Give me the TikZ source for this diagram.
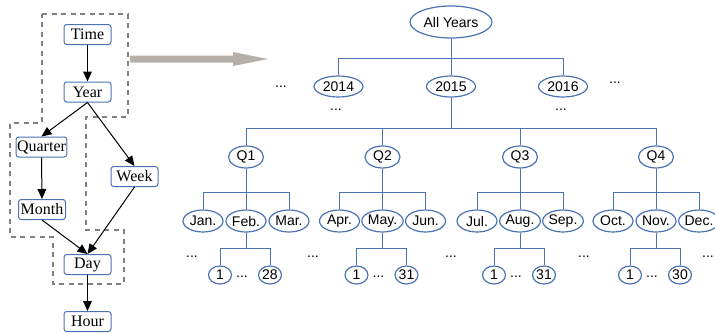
\documentclass[tikz,border=0pt]{standalone}
\usepackage{fontspec}
\setmainfont{Liberation Serif}
\setsansfont{Liberation Sans}
\usetikzlibrary{shapes.geometric,arrows.meta}

\definecolor{boxblue}{RGB}{75,115,180}
\definecolor{pathgray}{RGB}{128,128,128}
\definecolor{arrowgray}{RGB}{182,175,168}

\tikzset{
  lvlbox/.style={draw=boxblue, line width=0.75pt, rounded corners=2pt, fill=white, inner sep=0.75pt, minimum width=35.25pt, minimum height=15pt, font=\fontsize{12}{14}\selectfont},
  oval/.style={ellipse, draw=boxblue, line width=0.9pt, inner sep=0pt, font=\sffamily\fontsize{10.5}{12}\selectfont},
  topoval/.style={oval, minimum width=61.5pt, minimum height=24pt},
  yearoval/.style={oval, minimum width=36.75pt, minimum height=15.75pt},
  qoval/.style={oval, minimum width=26.25pt, minimum height=16.5pt},
  monoval/.style={oval, minimum width=30pt, minimum height=16.5pt},
  dayoval/.style={oval, minimum width=17.25pt, minimum height=13.5pt},
  dots/.style={inner sep=0pt, font=\sffamily\fontsize{10.5}{12}\selectfont},
  rollup/.style={-{Triangle[length=7.5pt,width=6.5pt]}, line width=0.75pt},
  treeline/.style={draw=boxblue, line width=0.75pt},
  pathline/.style={draw=pathgray, line width=2pt, dash pattern=on 3.75pt off 3.4pt}
}

\begin{document}
\begin{tikzpicture}[x=0.75pt,y=0.75pt,yscale=-1,xscale=1]
        \useasboundingbox (0,0) rectangle (715,333);

        % roll-up path of the time dimension
        \draw [pathline] (42,14) -- (128,14) -- (128,117) -- (86,117) -- (86,230) -- (124,230) -- (124,284) -- (53,284) -- (53,237) -- (10,237) -- (10,123) -- (42,123) -- cycle ;

        \node (time) at (87.5,34.5) [lvlbox] {Time};
        \node (year) at (87.5,92) [lvlbox] {Year};
        \node (quarter) at (41.5,147) [lvlbox] {Quarter};
        \node (week) at (134.5,176.5) [lvlbox] {Week};
        \node (month) at (42,209.5) [lvlbox] {Month};
        \node (day) at (87.5,264.5) [lvlbox] {Day};
        \node (hour) at (87.5,321.5) [lvlbox] {Hour};

        \draw [rollup] (time.south) -- (year.north) ;
        \draw [rollup] (year.south) -- (quarter.north) ;
        \draw [rollup] (year.south) -- (week.north) ;
        \draw [rollup] (quarter.south) -- (month.north) ;
        \draw [rollup] (month.south) -- (day.north) ;
        \draw [rollup] (week.south) -- (day.north) ;
        \draw [rollup] (day.south) -- (hour.north) ;

        % big arrow
        \fill [arrowgray] (130,55.5) -- (233,55.5) -- (233,52) -- (268,59) -- (233,66) -- (233,62.5) -- (130,62.5) -- cycle ;

        % member tree
        \node (all) at (451,22) [topoval] {All Years};
        \node (y14) at (338.5,86.5) [yearoval] {2014};
        \node (y15) at (451,86.5) [yearoval] {2015};
        \node (y16) at (563,86.5) [yearoval] {2016};
        \node (yl) at (281,87) [dots] {...};
        \node (yr) at (615,83) [dots] {...};
        \node (y14d) at (336,110) [dots] {...};
        \node (y16d) at (561,110) [dots] {...};

        \draw [treeline] (all.south) -- ++(0,20) -| (y14.north) ;
        \draw [treeline] (all.south) -- (y15.north) ;
        \draw [treeline] (all.south) -- ++(0,20) -| (y16.north) ;

        \node (q1) at (246,157) [qoval] {Q1};
        \node (q2) at (382.5,157) [qoval] {Q2};
        \node (q3) at (520,157) [qoval] {Q3};
        \node (q4) at (656,157) [qoval] {Q4};

        \draw [treeline] (y15.south) -- ++(0,31) -| (q1.north) ;
        \draw [treeline] (y15.south) -- ++(0,31) -| (q2.north) ;
        \draw [treeline] (y15.south) -- ++(0,31) -| (q3.north) ;
        \draw [treeline] (y15.south) -- ++(0,31) -| (q4.north) ;

        \node (jan) at (203,221) [monoval] {Jan.};
        \node (feb) at (246,221) [monoval] {Feb.};
        \node (mar) at (289,221) [monoval] {Mar.};
        \node (apr) at (339.5,221) [monoval] {Apr.};
        \node (may) at (382.5,221) [monoval] {May.};
        \node (jun) at (425.5,221) [monoval] {Jun.};
        \node (jul) at (477,221) [monoval] {Jul.};
        \node (aug) at (520,221) [monoval] {Aug.};
        \node (sep) at (563,221) [monoval] {Sep.};
        \node (oct) at (613,221) [monoval] {Oct.};
        \node (nov) at (656,221) [monoval] {Nov.};
        \node (dec) at (699,221) [monoval] {Dec.};

        \draw [treeline] (q1.south) -- ++(0,24) -| (jan.north) ;
        \draw [treeline] (q1.south) -- (feb.north) ;
        \draw [treeline] (q1.south) -- ++(0,24) -| (mar.north) ;
        \draw [treeline] (q2.south) -- ++(0,24) -| (apr.north) ;
        \draw [treeline] (q2.south) -- (may.north) ;
        \draw [treeline] (q2.south) -- ++(0,24) -| (jun.north) ;
        \draw [treeline] (q3.south) -- ++(0,24) -| (jul.north) ;
        \draw [treeline] (q3.south) -- (aug.north) ;
        \draw [treeline] (q3.south) -- ++(0,24) -| (sep.north) ;
        \draw [treeline] (q4.south) -- ++(0,24) -| (oct.north) ;
        \draw [treeline] (q4.south) -- (nov.north) ;
        \draw [treeline] (q4.south) -- ++(0,24) -| (dec.north) ;

        \node (md1) at (192,257) [dots] {...};
        \node (md2) at (313,257) [dots] {...};
        \node (md3) at (451,257) [dots] {...};
        \node (md4) at (584,257) [dots] {...};
        \node (md5) at (708,257) [dots] {...};

        \node (feba) at (220,275) [dayoval] {1};
        \node (febb) at (270,275) [dayoval] {28};
        \node (maya) at (356.5,275) [dayoval] {1};
        \node (mayb) at (406.5,275) [dayoval] {31};
        \node (auga) at (494,275) [dayoval] {1};
        \node (augb) at (544,275) [dayoval] {31};
        \node (nova) at (630,275) [dayoval] {1};
        \node (novb) at (680,275) [dayoval] {30};
        \node (febd) at (242,277) [dots] {...};
        \node (mayd) at (378.5,277) [dots] {...};
        \node (augd) at (516,277) [dots] {...};
        \node (novd) at (652,277) [dots] {...};

        \draw [treeline] (feb.south) -- ++(0,16) -| (feba.north) ;
        \draw [treeline] (feb.south) -- ++(0,16) -| (febb.north) ;
        \draw [treeline] (may.south) -- ++(0,16) -| (maya.north) ;
        \draw [treeline] (may.south) -- ++(0,16) -| (mayb.north) ;
        \draw [treeline] (aug.south) -- ++(0,16) -| (auga.north) ;
        \draw [treeline] (aug.south) -- ++(0,16) -| (augb.north) ;
        \draw [treeline] (nov.south) -- ++(0,16) -| (nova.north) ;
        \draw [treeline] (nov.south) -- ++(0,16) -| (novb.north) ;

\end{tikzpicture}
\end{document}
